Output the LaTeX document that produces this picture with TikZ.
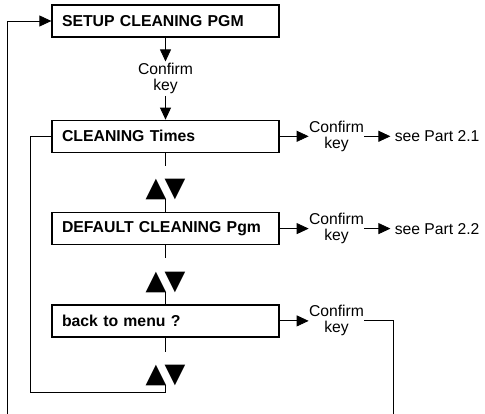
\documentclass[tikz,border=0pt]{standalone}
\usepackage{fontspec}
\setmainfont{Liberation Sans}
\newfontfamily\symfont{DejaVu Sans}
\usetikzlibrary{positioning, calc, arrows.meta}

\begin{document}
\begin{tikzpicture}[x=1pt, y=1pt,
  box/.style={draw, line width=1.3pt, minimum width=227pt, minimum height=32pt, text width=207pt, inner xsep=10pt, inner ysep=0pt, align=left, font=\bfseries\fontsize{15.8}{18}\selectfont},
  keylbl/.style={align=center, inner xsep=0pt, inner ysep=1.5pt, font=\fontsize{15.7}{16}\selectfont},
  ref/.style={inner xsep=4pt, font=\fontsize{15.7}{18}\selectfont},
  updown/.style={inner sep=0pt, text height=31pt, text depth=2pt, font=\symfont\fontsize{27}{27}\selectfont},
  line width=0.8pt, >={Triangle[length=12pt, width=11pt]}]
  \useasboundingbox (0,0) rectangle (485,-414);
  \node[box] (setup) at (165.5,-21) {SETUP CLEANING PGM};
  \node[box, below=82pt of setup] (times) {CLEANING Times};
  \node[box, below=59pt of times] (dflt) {DEFAULT CLEANING Pgm};
  \node[box, below=59pt of dflt] (back) {back to menu ?};
  \node[keylbl] (k0) at ($(setup.south)!0.5!(times.north)$) {Confirm\\key};
  \node[keylbl, right=29pt of times] (k1) {Confirm\\key};
  \node[ref, right=26pt of k1] (p1) {see Part 2.1};
  \node[keylbl, right=29pt of dflt] (k2) {Confirm\\key};
  \node[ref, right=26pt of k2] (p2) {see Part 2.2};
  \node[keylbl, right=29pt of back] (k3) {Confirm\\key};
  \node[updown] (ud1) at ($(times.south)!0.5!(dflt.north)$) {▲\kern-2pt▼};
  \node[updown] (ud2) at ($(dflt.south)!0.5!(back.north)$) {▲\kern-2pt▼};
  \node[updown, below=14pt of back] (ud3) {▲\kern-2pt▼};
  \coordinate (lx) at (7,-414);
  \coordinate (rx) at (393,-414);
  \coordinate (ly) at (30,-392);
  \draw[->] (setup) -- (k0);
  \draw[->] (k0) -- (times);
  \draw (times) -- (ud1);
  \draw (ud1) -- (dflt);
  \draw (dflt) -- (ud2);
  \draw (ud2) -- (back);
  \draw (back) -- (ud3);
  \draw (ud3.south) |- (ly) |- (times.west);
  \draw[->] (times) -- (k1);
  \draw[->] (k1) -- (p1);
  \draw[->] (dflt) -- (k2);
  \draw[->] (k2) -- (p2);
  \draw[->] (back) -- (k3);
  \draw (k3.east) -| (rx);
  \draw[->] (lx) |- (setup.west);
\end{tikzpicture}
\end{document}
